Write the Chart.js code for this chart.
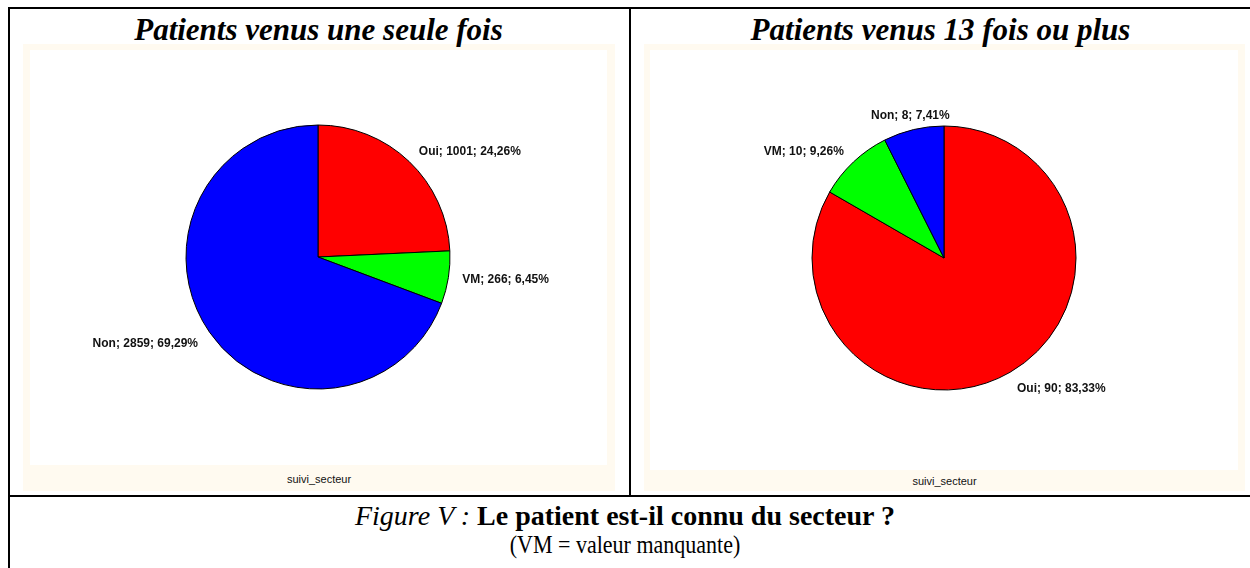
<!DOCTYPE html>
<html>
<head>
<meta charset="utf-8">
<script src="https://cdn.jsdelivr.net/npm/chart.js@4/dist/chart.umd.min.js"></script>
<style>
  body { margin: 0; width: 1250px; height: 568px; background: #fff; position: relative; overflow: hidden; }
  .line { position: absolute; background: #000; }
  .cream { position: absolute; background: #fffaf0; }
  .white { position: absolute; background: #fff; }
  .title { position: absolute; font-family: "Liberation Serif", "Times New Roman", serif; font-weight: bold; font-style: italic; font-size: 31px; text-align: center; line-height: 34px; }
  .axis { position: absolute; font-family: "Liberation Sans", Arial, sans-serif; font-size: 11px; text-align: center; color: #111; }
  .caption { position: absolute; left: 10px; width: 1230px; font-family: "Liberation Serif", "Times New Roman", serif; text-align: center; }
  canvas { position: absolute; }
</style>
</head>
<body>
<div class="line" style="left:8px; top:7px; width:1242px; height:2px;"></div>
<div class="line" style="left:8px; top:7px; width:2px; height:561px;"></div>
<div class="line" style="left:629px; top:7px; width:2px; height:490px;"></div>
<div class="line" style="left:8px; top:495px; width:1242px; height:2px;"></div>

<div class="cream" style="left:23px; top:44px; width:592px; height:447px;"></div>
<div class="white" style="left:30px; top:50px; width:577px; height:415px;"></div>
<div class="cream" style="left:644px; top:44px; width:601px; height:447px;"></div>
<div class="white" style="left:650px; top:50px; width:588px; height:420px;"></div>

<div class="title" style="left:10px; width:617px; top:13px;">Patients venus une seule fois</div>
<div class="title" style="left:631px; width:619px; top:13px;">Patients venus 13 fois ou plus</div>

<div class="axis" style="left:23px; width:592px; top:473px;">suivi_secteur</div>
<div class="axis" style="left:644px; width:601px; top:475px;">suivi_secteur</div>

<div class="caption" style="top:500px; font-size:28px; line-height:32px;"><i>Figure V :</i> <b>Le patient est-il connu du secteur ?</b></div>
<div class="caption" style="top:531px; font-size:25px; line-height:28px; transform:scaleX(0.88);">(VM = valeur manquante)</div>

<canvas id="pie1" width="560" height="400" style="left:38px; top:57px;"></canvas>
<canvas id="pie2" width="560" height="400" style="left:664px; top:58px;"></canvas>

<script>
const categories = ["Oui", "VM", "Non"];
const uneSeuleFois = [1001, 266, 2859];
const treizeFoisOuPlus = [90, 10, 8];
const sliceColors = ["#ff0000", "#00ff00", "#0000ff"];

// labels "Nom; valeur; pct%" placed outside each slice
const outsideLabels = {
  id: "outsideLabels",
  afterDatasetsDraw(chart) {
    const ctx = chart.ctx;
    const values = chart.data.datasets[0].data;
    const total = values.reduce((a, b) => a + b, 0);
    const meta = chart.getDatasetMeta(0);
    ctx.save();
    ctx.font = "bold 12px 'Liberation Sans', Arial, sans-serif";
    ctx.fillStyle = "#111";
    ctx.textBaseline = "middle";
    meta.data.forEach((arc, i) => {
      const mid = (arc.startAngle + arc.endAngle) / 2;
      const dx = Math.cos(mid);
      const dy = Math.sin(mid);
      const r = arc.outerRadius + 14;
      const x = arc.x + dx * r;
      const y = arc.y + dy * r;
      const pct = (values[i] / total * 100).toFixed(2).replace(".", ",");
      const text = chart.data.labels[i] + "; " + values[i] + "; " + pct + "%";
      if (Math.abs(dx) < 0.35) ctx.textAlign = "center";
      else ctx.textAlign = dx > 0 ? "left" : "right";
      ctx.fillText(text, x, y + (dy > 0.5 ? 4 : 0));
    });
    ctx.restore();
  }
};

function makePie(id, values) {
  new Chart(document.getElementById(id), {
    type: "pie",
    data: {
      labels: categories,
      datasets: [{
        data: values,
        backgroundColor: sliceColors,
        borderColor: "#000",
        borderWidth: 1
      }]
    },
    options: {
      responsive: false,
      animation: false,
      radius: 132,
      plugins: {
        legend: { display: false },
        tooltip: { enabled: false }
      }
    },
    plugins: [outsideLabels]
  });
}

makePie("pie1", uneSeuleFois);
makePie("pie2", treizeFoisOuPlus);
</script>
</body>
</html>
